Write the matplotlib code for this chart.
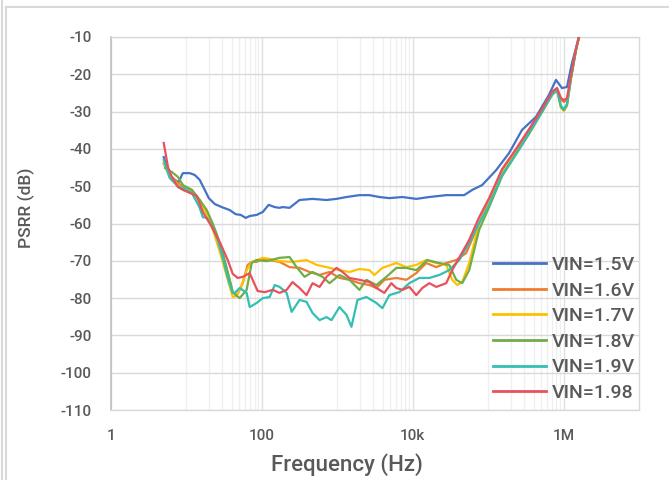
import matplotlib
matplotlib.use("Agg")
import matplotlib.pyplot as plt
from matplotlib.ticker import FixedLocator, FixedFormatter, NullFormatter
from matplotlib.lines import Line2D

plt.rcParams['font.family'] = ['Roboto', 'DejaVu Sans']
plt.rcParams['font.weight'] = 'medium'

# ---------------- data ----------------
labels = ["VIN=1.5V", "VIN=1.6V", "VIN=1.7V", "VIN=1.8V", "VIN=1.9V", "VIN=1.98"]
colors = ["#4472C4", "#ED7D31", "#FFC000", "#70AD47", "#33BFB2", "#E8505B"]

f_15 = [5.0, 6.0, 7.0, 7.9, 8.7, 9.0, 11.1, 12.9, 15.0, 17.5, 19.8, 23.8, 29.4, 37.5, 45.0, 52.5,
        61.1, 69.0, 85.3, 103, 123, 148, 172, 188, 233, 316, 470, 719, 976, 1324, 1966, 2667,
        3617, 4900, 7280, 11160, 16590, 27820, 48150, 61400, 83300, 127600, 189600, 281600,
        431300, 641000, 793400, 952600, 1.109e6, 1.291e6, 1.599e6, 1.75e6]
v_15 = [-42.2, -47.0, -48.3, -48.9, -47.0, -46.5, -46.5, -47.0, -48.3, -51.0, -53.2, -54.8, -55.6,
        -56.4, -57.5, -57.7, -58.5, -58.0, -57.7, -56.9, -55.0, -55.6, -55.8, -55.6, -55.8, -53.7,
        -53.4, -53.7, -53.4, -52.9, -52.4, -52.4, -52.9, -53.2, -52.9, -53.4, -52.9, -52.4, -52.4,
        -51.0, -49.7, -45.7, -41.1, -34.9, -31.4, -25.5, -21.5, -23.7, -23.4, -17.0, -10.0, -6.8]

f_16 = [5.0, 6.0, 7.7, 9.0, 11.8, 15.0, 18.6, 22.4, 26.0, 30.3, 35.3, 41.1, 46.4, 50.8, 55.7, 64.9,
        73.3, 85.3, 93.5, 127, 172, 233, 316, 429, 582, 789, 1070, 1450, 1966, 2667, 3302, 4210,
        6070, 8230, 11160, 15140, 20530, 27820, 37730, 51200, 69400, 103000, 153200, 234600,
        348600, 517600, 702600, 818000, 924500, 1.012e6, 1.109e6, 1.253e6, 1.459e6, 1.599e6, 1.75e6]
v_16 = [-44.0, -47.0, -49.1, -50.2, -51.0, -53.7, -56.9, -60.4, -63.9, -68.4, -73.3, -78.4, -79.2,
        -77.8, -76.0, -71.1, -70.3, -70.3, -69.8, -69.8, -70.3, -71.7, -71.9, -73.0, -73.8, -73.0,
        -74.6, -75.1, -76.0, -76.5, -77.3, -75.1, -74.6, -75.1, -73.3, -70.6, -71.7, -70.6, -69.8,
        -67.9, -61.7, -53.7, -45.7, -40.3, -34.9, -29.6, -25.0, -23.7, -26.9, -27.4, -26.9, -20.7,
        -13.5, -10.0, -6.8]

f_17 = [5.0, 6.0, 7.7, 9.0, 11.8, 15.0, 18.6, 22.4, 26.0, 30.3, 35.3, 41.1, 46.4, 54.0, 62.9, 73.3,
        103, 127, 172, 255, 391, 531, 719, 1070, 1450, 1966, 2667, 3105, 3963, 6070, 8230, 11160,
        15140, 20530, 27820, 33400, 38900, 45300, 56100, 76000, 103000, 153200, 234600, 348600,
        517600, 702600, 818000, 924500, 1.012e6, 1.109e6, 1.253e6, 1.459e6, 1.599e6, 1.75e6]
v_17 = [-43.8, -47.5, -49.7, -50.5, -51.6, -54.2, -57.5, -61.7, -65.8, -70.3, -75.1, -79.7, -79.4,
        -76.5, -72.5, -70.3, -69.2, -69.5, -70.1, -70.3, -69.8, -71.1, -71.7, -72.5, -73.0, -72.2,
        -72.5, -73.8, -71.9, -70.6, -71.7, -71.1, -69.8, -70.6, -71.1, -75.1, -76.5, -75.7, -70.6,
        -59.9, -54.5, -46.7, -41.1, -35.7, -30.1, -25.5, -24.2, -29.0, -29.8, -28.5, -21.3, -13.5,
        -10.0, -6.8]

f_18 = [5.2, 6.4, 7.7, 9.0, 11.8, 15.0, 18.6, 22.4, 26.0, 30.3, 35.3, 41.1, 46.4, 50.8, 62.9, 73.3,
        85.3, 116, 172, 233, 289, 368, 470, 637, 789, 1070, 1450, 1966, 2434, 3302, 4477, 6070,
        8230, 11160, 15600, 22490, 30470, 37730, 45300, 56100, 76000, 103000, 153200, 234600,
        348600, 517600, 702600, 818000, 924500, 1.012e6, 1.109e6, 1.253e6, 1.459e6, 1.599e6, 1.75e6]
v_18 = [-45.1, -46.2, -47.5, -49.7, -51.0, -53.7, -56.4, -60.1, -63.6, -67.9, -73.0, -78.4, -79.4,
        -80.0, -77.8, -70.6, -69.8, -70.1, -69.2, -69.0, -71.7, -74.3, -73.0, -74.3, -76.0, -73.8,
        -75.1, -77.8, -75.1, -76.5, -74.3, -71.9, -71.9, -72.5, -69.8, -70.6, -71.1, -75.1, -76.0,
        -72.5, -61.7, -55.6, -47.3, -41.4, -36.0, -30.1, -25.5, -24.2, -28.8, -29.6, -28.2, -21.0,
        -13.5, -10.0, -6.8]

f_19 = [5.0, 6.0, 7.7, 9.0, 11.8, 15.0, 16.5, 18.6, 22.4, 26.0, 30.3, 35.3, 41.1, 43.7, 50.8, 62.9,
        69.0, 85.3, 103, 127, 148, 172, 213, 248, 316, 391, 470, 582, 719, 838, 1070, 1324, 1541,
        1851, 2434, 3302, 3963, 4900, 6650, 9020, 12220, 16590, 22490, 30470, 41300, 56100, 76000,
        103000, 153200, 234600, 348600, 517600, 702600, 818000, 924500, 1.012e6, 1.109e6, 1.253e6,
        1.459e6, 1.599e6, 1.75e6]
v_19 = [-43.0, -47.8, -50.0, -50.5, -51.8, -55.8, -58.3, -58.5, -61.2, -64.4, -69.2, -74.6, -78.6,
        -78.6, -77.3, -78.6, -82.4, -81.3, -80.0, -79.7, -76.5, -77.0, -78.6, -83.7, -80.5, -81.0,
        -84.0, -85.9, -85.1, -85.9, -82.4, -84.5, -87.7, -80.5, -79.7, -81.3, -82.7, -79.2, -78.4,
        -76.0, -74.6, -74.6, -73.8, -72.5, -69.8, -65.2, -59.9, -55.0, -47.0, -41.4, -35.7, -30.1,
        -25.5, -24.2, -28.5, -29.3, -28.0, -21.0, -13.5, -10.0, -6.8]

f_198 = [5.0, 5.7, 6.4, 7.7, 9.0, 11.1, 13.7, 16.5, 21.7, 27.7, 35.3, 41.1, 47.9, 55.7, 69.0, 75.5,
         87.9, 109, 139, 172, 213, 255, 316, 391, 470, 582, 719, 976, 1172, 1450, 1966, 2667, 3302,
         4210, 5210, 6070, 7280, 9020, 11160, 13400, 16590, 20530, 27820, 33400, 41300, 56100,
         76000, 103000, 153200, 234600, 348600, 517600, 702600, 818000, 924500, 1.012e6, 1.109e6,
         1.253e6, 1.459e6, 1.599e6, 1.75e6]
v_198 = [-38.4, -44.9, -47.5, -50.2, -51.0, -51.8, -52.6, -56.9, -60.9, -65.0, -69.8, -73.5, -74.6,
         -74.3, -73.3, -75.1, -78.1, -78.4, -77.8, -78.6, -77.8, -75.7, -77.3, -79.2, -76.0, -77.0,
         -74.3, -71.9, -73.0, -74.6, -75.1, -75.7, -77.3, -78.6, -76.0, -77.3, -77.8, -77.0, -79.2,
         -77.3, -76.0, -77.0, -76.0, -72.5, -69.2, -64.4, -58.3, -53.2, -45.4, -40.0, -34.7, -29.3,
         -24.7, -23.7, -26.4, -26.9, -26.4, -20.4, -13.2, -10.0, -6.8]

series = [(f_15, v_15), (f_16, v_16), (f_17, v_17), (f_18, v_18), (f_19, v_19), (f_198, v_198)]

x_major = [1, 100, 1e4, 1e6]
x_ticklabels = ["1", "100", "10k", "1M"]
y_ticks = [-10, -20, -30, -40, -50, -60, -70, -80, -90, -100, -110]
y_ticklabels = ["-10", "-20", "-30", "-40", "-50", "-60", "-70", "-80", "-90", "-100", "-110"]

# ---------------- figure ----------------
W, H = 669, 480
fig = plt.figure(figsize=(W / 100, H / 100), dpi=100)
ax = fig.add_axes([111 / W, 1 - 410 / H, (639 - 111) / W, (410 - 37) / H])

text_col = "#595959"

for (fx, vy), c, lab in zip(series, colors, labels):
    ax.plot(fx, vy, color=c, lw=1.6, label=lab, solid_joinstyle="round", zorder=3)

ax.set_xscale("log")
ax.set_xlim(1, 1e7)
ax.set_ylim(-110, -10)

ax.xaxis.set_major_locator(FixedLocator(x_major))
ax.xaxis.set_major_formatter(FixedFormatter(x_ticklabels))
minor = [m * 10 ** (2 * k + 1) for k in range(3) for m in range(1, 10)]
ax.xaxis.set_minor_locator(FixedLocator(minor))
ax.xaxis.set_minor_formatter(NullFormatter())
ax.yaxis.set_major_locator(FixedLocator(y_ticks))
ax.yaxis.set_major_formatter(FixedFormatter(y_ticklabels))

ax.grid(True, which="major", axis="y", color="#d9d9d9", lw=1.0, zorder=0)
ax.grid(True, which="major", axis="x", color="#e0e0e0", lw=1.0, zorder=0)
ax.grid(True, which="minor", axis="x", color="#efefef", lw=0.9, zorder=0)
ax.set_axisbelow(True)

ax.tick_params(axis="both", which="both", length=0)
ax.tick_params(axis="x", which="major", pad=14, labelsize=11, labelcolor=text_col)
ax.tick_params(axis="y", which="major", pad=14, labelsize=11, labelcolor=text_col)

for s in ["top", "right", "bottom"]:
    ax.spines[s].set_color("#d9d9d9")
    ax.spines[s].set_linewidth(1.0)
ax.spines["left"].set_color("#bfbfbf")
ax.spines["left"].set_linewidth(1.2)

fig.text(347 / W, 1 - 465 / H, "Frequency (Hz)", ha="center", va="center",
         fontsize=16, color=text_col)
fig.text(26 / W, 1 - 208 / H, "PSRR (dB)", ha="center", va="center", rotation=90,
         fontsize=12.5, color=text_col)

leg = ax.legend(loc="upper left", bbox_to_anchor=(493 / W, 1 - 256 / H),
                bbox_transform=fig.transFigure, frameon=False, fontsize=14,
                handlelength=2.75, handletextpad=0.3, labelspacing=0.39,
                borderpad=0, borderaxespad=0)
for t in leg.get_texts():
    t.set_color(text_col)
for l in leg.get_lines():
    l.set_linewidth(2.0)

# outer frame lines of the screenshot
fig.add_artist(Line2D([1.5 / W, 1.5 / W], [0, 1], color="#d9d9d9", lw=1.5))
fig.add_artist(Line2D([6.5 / W, 6.5 / W], [0, 1 - 7 / H], color="#d9d9d9", lw=1.5))
fig.add_artist(Line2D([6.5 / W, 1], [1 - 7 / H, 1 - 7 / H], color="#d9d9d9", lw=1.5))

fig.savefig("out.png", dpi=100)
